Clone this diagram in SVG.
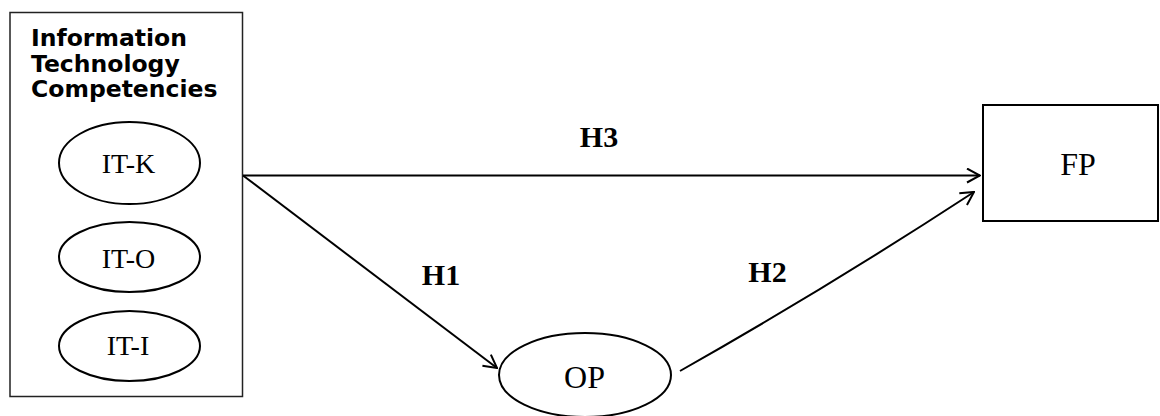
<svg xmlns="http://www.w3.org/2000/svg" width="1160" height="416" viewBox="0 0 1160 416">
  <style>
    .box { fill: #fff; stroke: #000; stroke-width: 2; }
    .lbox { fill: #fff; stroke: #222; stroke-width: 1.5; }
    .ell { fill: #fff; stroke: #000; stroke-width: 2; }
    .title { font-family: "DejaVu Sans", Verdana, sans-serif; font-weight: bold; font-size: 23.5px; fill: #000; }
    .node { font-family: "Liberation Serif", "Times New Roman", serif; font-size: 28px; fill: #000; text-anchor: middle; }
    .big { font-size: 32px; }
    .hyp { font-family: "Liberation Serif", "Times New Roman", serif; font-weight: bold; font-size: 30px; fill: #000; text-anchor: middle; }
    .conn { fill: none; stroke: #000; stroke-width: 2; }
  </style>
  <defs>
    <marker id="arrow" viewBox="0 0 16 16" refX="15" refY="8" markerWidth="16" markerHeight="16" markerUnits="userSpaceOnUse" orient="auto">
      <path d="M2,1 L15,8 L2,15" fill="none" stroke="#000" stroke-width="2"/>
    </marker>
  </defs>
  <rect width="1160" height="416" fill="#fff"/>

  <g id="itc">
    <rect class="lbox" x="10" y="12.5" width="232.5" height="384"/>
    <text class="title" x="31" y="46">Information</text>
    <text class="title" x="31" y="71.5">Technology</text>
    <text class="title" x="31" y="97">Competencies</text>
  </g>
  <g id="it-k">
    <ellipse class="ell" cx="129.5" cy="163" rx="70.5" ry="41"/>
    <text class="node" x="128.5" y="173">IT-K</text>
  </g>
  <g id="it-o">
    <ellipse class="ell" cx="129.5" cy="257" rx="70.5" ry="35"/>
    <text class="node" x="128.5" y="268">IT-O</text>
  </g>
  <g id="it-i">
    <ellipse class="ell" cx="129.5" cy="346" rx="70.5" ry="35"/>
    <text class="node" x="128" y="355">IT-I</text>
  </g>
  <g id="op">
    <ellipse class="ell" cx="585" cy="375" rx="86" ry="42"/>
    <text class="node big" x="584.5" y="388">OP</text>
  </g>
  <g id="fp">
    <rect class="box" x="983" y="105" width="175" height="116"/>
    <text class="node big" x="1078" y="175">FP</text>
  </g>

  <g id="connectors">
    <line class="conn" x1="243" y1="175.5" x2="980" y2="175.5" marker-end="url(#arrow)"/>
    <line class="conn" x1="243" y1="175.5" x2="497" y2="368" marker-end="url(#arrow)"/>
    <path class="conn" d="M680,371 Q827,288 974,192" marker-end="url(#arrow)"/>
    <text class="hyp" x="599" y="147">H3</text>
    <text class="hyp" x="441" y="285">H1</text>
    <text class="hyp" x="767.5" y="282">H2</text>
  </g>
</svg>
